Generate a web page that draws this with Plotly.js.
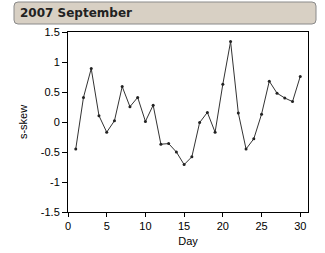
<!DOCTYPE html>
<html><head>
<script src="https://cdn.plot.ly/plotly-3.0.1.min.js"></script>
<style>html,body{margin:0;padding:0;background:#fff;}#chart{width:325px;height:253px;}</style>
</head><body>
<div id="chart"></div>
<script>
const titleText = "2007 September";
const xLabel = "Day";
const yLabel = "s-skew";
const days = [1,2,3,4,5,6,7,8,9,10,11,12,13,14,15,16,17,18,19,20,21,22,23,24,25,26,27,28,29,30];
const skew = [-0.45,0.41,0.89,0.105,-0.17,0.02,0.59,0.255,0.41,0.01,0.28,-0.37,-0.36,-0.5,-0.71,-0.58,-0.01,0.16,-0.17,0.63,1.34,0.15,-0.45,-0.28,0.13,0.68,0.48,0.4,0.34,0.76];
const xTicks = [0,5,10,15,20,25,30];
const yTicks = [-1.5,-1,-0.5,0,0.5,1,1.5];

const trace = {
  x: days, y: skew, type: 'scatter', mode: 'lines+markers',
  line: {color: '#333333', width: 1},
  marker: {color: '#222222', size: 3},
  hoverinfo: 'none'
};
const font = {family: 'Liberation Sans, Arial, sans-serif', size: 11, color: '#000'};

// rounded title box in pixel space, converted to paper coords
const L = 68, T = 32, W = 240, H = 180;
const px = x => (x - L) / W;
const py = y => (T + H - y) / H;
const bx0 = 14, bx1 = 316, by0 = 2, by1 = 24, r = 4;
const boxPath = 'M ' + px(bx0 + r) + ',' + py(by0) +
  ' L ' + px(bx1 - r) + ',' + py(by0) +
  ' Q ' + px(bx1) + ',' + py(by0) + ' ' + px(bx1) + ',' + py(by0 + r) +
  ' L ' + px(bx1) + ',' + py(by1 - r) +
  ' Q ' + px(bx1) + ',' + py(by1) + ' ' + px(bx1 - r) + ',' + py(by1) +
  ' L ' + px(bx0 + r) + ',' + py(by1) +
  ' Q ' + px(bx0) + ',' + py(by1) + ' ' + px(bx0) + ',' + py(by1 - r) +
  ' L ' + px(bx0) + ',' + py(by0 + r) +
  ' Q ' + px(bx0) + ',' + py(by0) + ' ' + px(bx0 + r) + ',' + py(by0) + ' Z';

const layout = {
  width: 325, height: 253,
  margin: {l: 68, r: 17, t: 32, b: 41},
  paper_bgcolor: '#fff', plot_bgcolor: '#fff',
  showlegend: false,
  font: font,
  xaxis: {
    range: [0, 31], tickvals: xTicks, ticktext: xTicks.map(String),
    ticks: 'outside', ticklen: 4, tickcolor: '#000', tickwidth: 1,
    showline: true, linecolor: '#000', linewidth: 1, mirror: true,
    showgrid: false, zeroline: false,
    title: {text: xLabel, font: font, standoff: 6}
  },
  yaxis: {
    range: [-1.5, 1.5], tickvals: yTicks, ticktext: yTicks.map(String),
    ticks: 'outside', ticklen: 5, tickcolor: '#000', tickwidth: 1,
    showline: true, linecolor: '#000', linewidth: 1, mirror: true,
    showgrid: false, zeroline: false,
    title: {text: yLabel, font: font, standoff: 10}
  },
  shapes: [{
    type: 'path', xref: 'paper', yref: 'paper', path: boxPath,
    fillcolor: '#d8d0c4', line: {color: '#8a8a8a', width: 1}
  }],
  annotations: [{
    text: '<b>' + titleText + '</b>', xref: 'paper', yref: 'paper',
    x: px(18), y: py(13), xanchor: 'left', yanchor: 'middle',
    showarrow: false,
    font: {family: 'DejaVu Sans, Verdana, sans-serif', size: 12, color: '#222'}
  }]
};
Plotly.newPlot('chart', [trace], layout, {staticPlot: true, displayModeBar: false});
</script>
</body></html>
